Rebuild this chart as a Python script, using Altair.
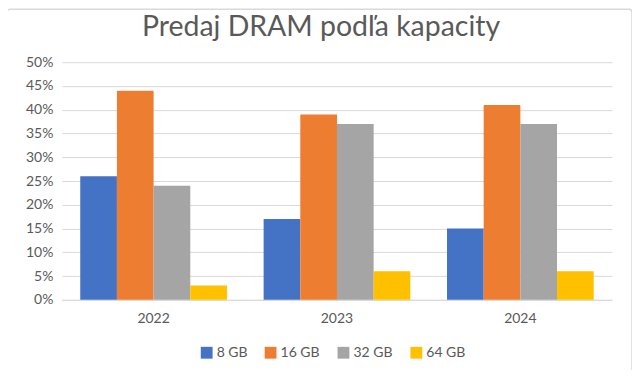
import altair as alt
import pandas as pd

years = ["2022", "2023", "2024"]
series = ["8 GB", "16 GB", "32 GB", "64 GB"]
share_8 = [0.26, 0.17, 0.15]
share_16 = [0.44, 0.39, 0.41]
share_32 = [0.24, 0.37, 0.37]
share_64 = [0.03, 0.06, 0.06]
colors = ["#4472C4", "#ED7D31", "#A5A5A5", "#FFC000"]
title_text = "Predaj DRAM podľa kapacity"

rows = []
for s, vals in zip(series, [share_8, share_16, share_32, share_64]):
    for y, v in zip(years, vals):
        rows.append({"year": y, "series": s, "value": v})
df = pd.DataFrame(rows)

FONT = "Lato"
TXT = "#595959"

bars = alt.Chart(df).mark_bar().encode(
    x=alt.X("year:N", title=None,
            scale=alt.Scale(paddingInner=0.2, paddingOuter=0.1),
            axis=alt.Axis(labelAngle=0, tickSize=0, labelPadding=12, labelFontSize=14,
                          labelColor=TXT, labelFont=FONT, domainColor="#d9d9d9", grid=False)),
    xOffset=alt.XOffset("series:N", sort=series, scale=alt.Scale(domain=series, paddingInner=0, paddingOuter=0)),
    y=alt.Y("value:Q", title=None,
            scale=alt.Scale(domain=[0, 0.5], nice=False),
            axis=alt.Axis(format=".0%", values=[i * 0.05 for i in range(11)], tickSize=0, domain=False,
                          labelPadding=9, labelFontSize=14, labelColor=TXT, labelFont=FONT,
                          gridColor="#d9d9d9", gridWidth=1)),
    color=alt.Color("series:N", sort=series,
                    scale=alt.Scale(domain=series, range=colors),
                    legend=alt.Legend(title=None, orient="none", direction="horizontal",
                                      legendX=138, legendY=284, symbolType="square",
                                      symbolSize=140, symbolStrokeWidth=0, labelFontSize=14,
                                      labelColor=TXT, labelFont=FONT, columnPadding=16,
                                      labelOffset=3)),
)

border = alt.Chart(alt.Data(values=[{"a": 1}])).mark_rect(
    filled=False, stroke="#d9d9d9", strokeWidth=1.5, cornerRadius=3, clip=False
).encode(
    x=alt.value(-55), x2=alt.value(571), y=alt.value(-53), y2=alt.value(320)
)

title = alt.Chart(alt.Data(values=[{"t": title_text}])).mark_text(
    font=FONT, fontSize=28.5, color=TXT, align="center", baseline="alphabetic", clip=False
).encode(
    text="t:N", x=alt.value(259.5), y=alt.value(-26)
)

chart = alt.layer(border, title, bars).properties(
    width=551, height=238,
    autosize=alt.AutoSizeParams(type="none"),
    padding={"left": 54, "top": 54, "right": 20, "bottom": 70},
).configure_view(stroke=None)

chart.save("out.html", embed_options={"renderer": "svg", "actions": False})
